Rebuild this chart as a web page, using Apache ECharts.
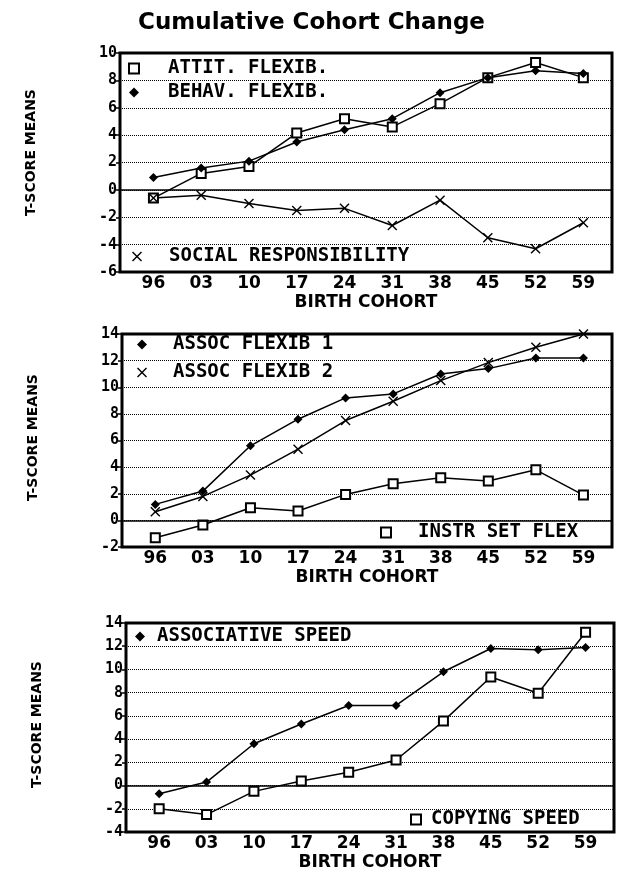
<!DOCTYPE html>
<html>
<head>
<meta charset="utf-8">
<script src="https://cdn.jsdelivr.net/npm/echarts@6/dist/echarts.min.js"></script>
<style>html,body{margin:0;padding:0;background:#fff}#c{width:623px;height:872px}</style>
</head>
<body>
<div id="c"></div>
<script>
// ---- data ----
const categories = ['96','03','10','17','24','31','38','45','52','59'];
const yTicksTop = [-6,-4,-2,0,2,4,6,8,10];
const yTicksMid = [-2,0,2,4,6,8,10,12,14];
const yTicksBot = [-4,-2,0,2,4,6,8,10,12,14];

const attitFlexib   = [-0.6, 1.2, 1.7, 4.15, 5.2, 4.6, 6.3, 8.2, 9.3, 8.2];
const behavFlexib   = [0.9, 1.6, 2.1, 3.5, 4.4, 5.2, 7.1, 8.2, 8.7, 8.5];
const socialResp    = [-0.6, -0.4, -1.0, -1.5, -1.35, -2.6, -0.75, -3.5, -4.3, -2.4];

const assocFlexib1  = [1.2, 2.2, 5.6, 7.6, 9.2, 9.5, 11.0, 11.4, 12.2, 12.2];
const assocFlexib2  = [0.65, 1.8, 3.4, 5.35, 7.5, 8.95, 10.5, 11.85, 13.0, 14.0];
const instrSetFlex  = [-1.3, -0.35, 0.95, 0.7, 1.95, 2.75, 3.2, 2.95, 3.8, 1.9];

const assocSpeed    = [-0.7, 0.3, 3.6, 5.3, 6.9, 6.9, 9.8, 11.8, 11.7, 11.9];
const copyingSpeed  = [-2.0, -2.5, -0.5, 0.4, 1.15, 2.2, 5.55, 9.35, 7.95, 13.2];

// ---- helpers ----
const FONT = 'DejaVu Sans';
const MONO = 'DejaVu Sans Mono';
const XMARK = 'path://M0,1 L1,0 L5,4 L9,0 L10,1 L6,5 L10,9 L9,10 L5,6 L1,10 L0,9 L4,5 Z';
const pairs = vals => vals.map((v, i) => [i, v]);
const catIdx = categories.map((c, i) => i);

function xAxisFor(gi) {
  return {
    type: 'value', gridIndex: gi, min: -0.7, max: 9.6,
    name: 'BIRTH COHORT', nameLocation: 'middle', nameGap: 22,
    nameTextStyle: {fontFamily: FONT, fontWeight: 'bold', fontSize: 17, color: '#000'},
    axisLine: {show: false, onZero: false}, axisTick: {show: false}, splitLine: {show: false},
    axisLabel: {customValues: catIdx, formatter: v => categories[Math.round(v)],
      fontFamily: FONT, fontWeight: 'bold', fontSize: 17, color: '#000', margin: 3}
  };
}
function yAxisFor(gi, ticks, namePad) {
  return {
    type: 'value', gridIndex: gi, min: ticks[0], max: ticks[ticks.length - 1], interval: 2,
    name: 'T-SCORE MEANS', nameLocation: 'middle', nameRotate: 90, nameGap: 82,
    nameTextStyle: {fontFamily: FONT, fontWeight: 'bold', fontSize: 14, color: '#000', padding: namePad},
    axisLine: {show: false, onZero: false},
    axisTick: {show: true, length: 4, lineStyle: {color: '#000', width: 1.5}},
    axisLabel: {fontFamily: MONO, fontWeight: 'bold', fontSize: 15, color: '#000', margin: 3},
    splitLine: {show: true, lineStyle: {type: 'dotted', color: '#000', width: 1}}
  };
}
function lineSeries(name, vals, gi, symbol, size, extra) {
  const s = {
    name: name, type: 'line', xAxisIndex: gi, yAxisIndex: gi, data: pairs(vals),
    symbol: symbol, symbolSize: size, showAllSymbol: true,
    lineStyle: {color: '#000', width: 1.5},
    itemStyle: {color: '#000', borderColor: '#000', borderWidth: symbol === 'emptyRect' ? 2 : 0},
    emphasis: {disabled: true}
  };
  return Object.assign(s, extra || {});
}
const zeroLine = {
  silent: true, symbol: 'none', label: {show: false},
  lineStyle: {type: 'solid', color: '#000', width: 1.5},
  data: [{yAxis: 0}]
};
function legendFor(items, left, top, gap, pad) {
  return {
    orient: 'vertical', left: left, top: top, itemGap: gap, selectedMode: false,
    itemWidth: 10, itemHeight: 10, padding: 0,
    textStyle: {fontFamily: MONO, fontWeight: 'bold', fontSize: 19, color: '#000', padding: [0, 0, 0, pad]},
    data: items
  };
}

const option = {
  animation: false,
  backgroundColor: '#fff',
  title: {
    text: 'Cumulative Cohort Change', left: 'center', top: 7,
    textStyle: {fontFamily: FONT, fontWeight: 'bold', fontSize: 23, color: '#000'}
  },
  grid: [
    {left: 120, right: 11, top: 53, height: 219, show: true, borderColor: '#000', borderWidth: 3},
    {left: 122, right: 11, top: 334, height: 213, show: true, borderColor: '#000', borderWidth: 3},
    {left: 126, right: 9, top: 623, height: 209, show: true, borderColor: '#000', borderWidth: 3}
  ],
  xAxis: [xAxisFor(0), xAxisFor(1), xAxisFor(2)],
  yAxis: [yAxisFor(0, yTicksTop, [0, 0, 0, 20]), yAxisFor(1, yTicksMid, [0, 0, 0, 6]), yAxisFor(2, yTicksBot, [0, 0, 0, 6])],
  legend: [
    legendFor([{name: 'ATTIT. FLEXIB.', icon: 'emptyRect'}, {name: 'BEHAV. FLEXIB.', icon: 'diamond'}], 128, 59, 5, 24),
    legendFor([{name: 'SOCIAL RESPONSIBILITY', icon: XMARK}], 132, 247, 5, 22),
    legendFor([{name: 'ASSOC FLEXIB 1', icon: 'diamond'}, {name: 'ASSOC FLEXIB 2', icon: XMARK}], 137, 335, 9, 21),
    legendFor([{name: 'INSTR SET FLEX', icon: 'emptyRect'}], 380, 523, 5, 22),
    legendFor([{name: 'ASSOCIATIVE SPEED', icon: 'diamond'}], 135, 627, 5, 7),
    legendFor([{name: 'COPYING SPEED', icon: 'emptyRect'}], 410, 810, 5, 5)
  ],
  series: [
    lineSeries('ATTIT. FLEXIB.', attitFlexib, 0, 'emptyRect', 9, {markLine: zeroLine}),
    lineSeries('BEHAV. FLEXIB.', behavFlexib, 0, 'diamond', 9),
    lineSeries('SOCIAL RESPONSIBILITY', socialResp, 0, XMARK, 10),

    lineSeries('ASSOC FLEXIB 1', assocFlexib1, 1, 'diamond', 9, {markLine: zeroLine}),
    lineSeries('ASSOC FLEXIB 2', assocFlexib2, 1, XMARK, 10),
    lineSeries('INSTR SET FLEX', instrSetFlex, 1, 'emptyRect', 9),

    lineSeries('ASSOCIATIVE SPEED', assocSpeed, 2, 'diamond', 9, {markLine: zeroLine}),
    lineSeries('COPYING SPEED', copyingSpeed, 2, 'emptyRect', 9)
  ]
};

const chart = echarts.init(document.getElementById('c'), null, {renderer: 'canvas'});
chart.setOption(option);
</script>
</body>
</html>
